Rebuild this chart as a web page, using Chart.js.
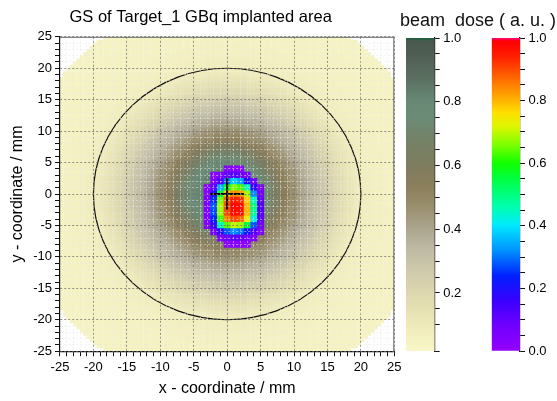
<!DOCTYPE html>
<html lang="en">
<head>
<meta charset="UTF-8" />
<title>GS of Target_1 GBq implanted area</title>
<script src="https://cdn.jsdelivr.net/npm/chart.js"></script>
<style>
  html, body { margin: 0; padding: 0; background: #fff; }
  body { width: 557px; height: 401px; position: relative; overflow: hidden; }
  canvas { position: absolute; top: 0; }
  #mainChart { left: 0; }
  #gsBar { left: 400px; }
  #doseBar { left: 470px; }
  #barTitle {
    position: absolute; left: 400px; top: 11px;
    font: 18px "Liberation Sans", Arial, sans-serif; line-height: 1;
    white-space: pre; color: #111;
  }
</style>
</head>
<body>
<canvas id="mainChart" width="405" height="401"></canvas>
<canvas id="gsBar" width="70" height="401"></canvas>
<canvas id="doseBar" width="87" height="401"></canvas>
<div id="barTitle">beam  dose ( a. u. )</div>

<script>
  // axis range (mm)
  const axisMin = -25;
  const axisMax = 25;

  // GS level per 0.5 mm ring around the origin (ring k = radius k/2 .. (k+1)/2 mm)
  const gsRingWidth = 0.5;
  const gsRingLevel = [
    0.90, 0.90, 0.90, 0.89, 0.88, 0.87, 0.85, 0.83, 0.81, 0.79,
    0.76, 0.73, 0.70, 0.665, 0.63, 0.595, 0.56, 0.53, 0.50, 0.475,
    0.45, 0.425, 0.40, 0.38, 0.36, 0.34, 0.32, 0.30, 0.28, 0.26,
    0.24, 0.22, 0.20, 0.18, 0.16, 0.145, 0.13, 0.115, 0.10, 0.09,
    0.08, 0.075, 0.07, 0.065, 0.06, 0.06, 0.06, 0.055, 0.05, 0.05,
    0.05, 0.05, 0.05, 0.05, 0.05, 0.05, 0.04, 0.04, 0.04, 0.04,
    0.04, 0.04];

  // beam dose, 1 mm cells; columns = x, rows = y (top to bottom)
  const doseCols = [-3, -2, -1, 0, 1, 2, 3, 4, 5];
  const doseRows = [4, 3, 2, 1, 0, -1, -2, -3, -4, -5, -6, -7, -8];
  const doseValues = [
    [null, null, null, 0.03, 0.03, 0.02, null, null, null],
    [null, 0.02, 0.05, 0.10, 0.12, 0.10, 0.06, null, null],
    [null, 0.04, 0.13, 0.30, 0.38, 0.34, 0.20, 0.07, null],
    [0.02, 0.10, 0.35, 0.58, 0.66, 0.63, 0.45, 0.18, 0.04],
    [0.03, 0.18, 0.55, 0.78, 0.84, 0.82, 0.68, 0.32, 0.07],
    [0.04, 0.25, 0.65, 0.88, 0.95, 0.93, 0.78, 0.45, 0.10],
    [0.05, 0.28, 0.68, 0.90, 0.98, 0.97, 0.80, 0.50, 0.12],
    [0.05, 0.27, 0.67, 0.90, 0.97, 0.96, 0.80, 0.48, 0.11],
    [0.04, 0.24, 0.62, 0.84, 0.90, 0.88, 0.74, 0.42, 0.10],
    [0.03, 0.16, 0.45, 0.64, 0.70, 0.68, 0.55, 0.28, 0.07],
    [null, 0.07, 0.18, 0.28, 0.32, 0.30, 0.22, 0.12, 0.04],
    [null, null, 0.05, 0.09, 0.11, 0.10, 0.08, 0.04, null],
    [null, null, null, 0.02, 0.03, 0.03, 0.02, null, null],
  ];

  // target circle and beam cross
  const ringRadius = 20;
  const crossH = [{ x: -2.5, y: 0 }, { x: 2.5, y: 0 }];
  const crossV = [{ x: 0, y: 2.5 }, { x: 0, y: -2.5 }];

  // colour scales
  const gsStops = [0, 0.05, 0.15, 0.25, 0.33, 0.40, 0.47, 0.53, 0.60, 0.68, 0.75, 0.80, 0.88, 0.95, 0.99, 1.0];
  const gsColors = ['#fbf9cc', '#f5f2c1', '#e6e1b2', '#d3ceac', '#c0bca6', '#aca68f', '#9a8f6e', '#8c7f5c',
    '#7f7c5f', '#738266', '#6b8b76', '#698976', '#5a6e60', '#4f5e53', '#4a594e', '#1a5e3e'];
  const doseStops = [0, 0.08, 0.16, 0.24, 0.32, 0.40, 0.46, 0.55, 0.60, 0.66, 0.72, 0.76, 0.82, 0.88, 0.94, 0.99, 1.0];
  const doseColors = ['#9400ff', '#7000ff', '#3a00ff', '#0020ff', '#0090ff', '#00e8ff', '#00ffb0', '#00ff40',
    '#10ff00', '#80ff00', '#e0f500', '#ffe000', '#ffa000', '#ff6000', '#ff2000', '#ff0000', '#ff0080'];

  Chart.defaults.font.family = '"Liberation Sans", Arial, sans-serif';
  Chart.defaults.color = '#000';

  function hexToRgb(h) {
    const n = parseInt(h.slice(1), 16);
    return [n >> 16, (n >> 8) & 255, n & 255];
  }

  function colorAt(v, stops, colors) {
    for (let i = 1; i < stops.length; i++) {
      if (v <= stops[i]) {
        const t = (v - stops[i - 1]) / (stops[i] - stops[i - 1]);
        const a = hexToRgb(colors[i - 1]), b = hexToRgb(colors[i]);
        return "rgb(" + a.map((c, k) => Math.round(c + (b[k] - c) * t)).join(",") + ")";
      }
    }
    return colors[colors.length - 1];
  }

  // GS cells: each cell takes the level of the ring its centre falls in
  const gsCells = [];
  const gsCellColors = [];
  const nCells = (axisMax - axisMin) / gsRingWidth;
  for (let i = 0; i < nCells; i++) {
    for (let j = 0; j < nCells; j++) {
      const x = axisMin + gsRingWidth * (i + 0.5);
      const y = axisMin + gsRingWidth * (j + 0.5);
      const ring = Math.floor(Math.hypot(x, y) / gsRingWidth);
      if (ring < gsRingLevel.length) {
        gsCells.push({ x, y });
        gsCellColors.push(colorAt(gsRingLevel[ring], gsStops, gsColors));
      }
    }
  }

  const doseCells = [];
  const doseCellColors = [];
  doseRows.forEach((y, r) => {
    doseCols.forEach((x, c) => {
      const v = doseValues[r][c];
      if (v !== null) {
        doseCells.push({ x, y });
        doseCellColors.push(colorAt(v, doseStops, doseColors));
      }
    });
  });

  const ringPlugin = {
    id: "ring",
    afterDatasetsDraw(chart) {
      const { ctx, scales: { x, y } } = chart;
      const cx = x.getPixelForValue(0), cy = y.getPixelForValue(0);
      ctx.save();
      ctx.beginPath();
      ctx.ellipse(cx, cy, x.getPixelForValue(ringRadius) - cx, cy - y.getPixelForValue(ringRadius), 0, 0, Math.PI * 2);
      ctx.lineWidth = 1.2;
      ctx.strokeStyle = "#111";
      ctx.stroke();
      ctx.restore();
    },
  };

  // thin frame on the top and right of the plot
  const framePlugin = {
    id: "frame",
    afterDraw(chart) {
      const { ctx, scales: { x, y } } = chart;
      const left = x.getPixelForValue(axisMin), right = x.getPixelForValue(axisMax);
      const top = y.getPixelForValue(axisMax), bottom = y.getPixelForValue(axisMin);
      ctx.save();
      ctx.strokeStyle = "#666";
      ctx.lineWidth = 1;
      ctx.beginPath();
      ctx.moveTo(left, top + 0.5);
      ctx.lineTo(right - 0.5, top + 0.5);
      ctx.lineTo(right - 0.5, bottom);
      ctx.stroke();
      ctx.restore();
    },
  };

  const isMajor = (v) => Math.abs(v % 5) < 1e-6;

  function coordAxis(title) {
    return {
      type: "linear",
      min: axisMin,
      max: axisMax,
      ticks: {
        stepSize: 1,
        autoSkip: false,
        maxRotation: 0,
        minRotation: 0,
        padding: 3,
        font: { size: 13 },
        color: "#000",
        callback: (v) => (isMajor(v) ? v : ""),
      },
      grid: {
        z: 1,
        lineWidth: 1,
        tickLength: 5,
        tickColor: "#111",
        color: (c) => (isMajor(c.tick.value) ? "rgba(110,110,110,0.75)" : "rgba(232,232,232,0.55)"),
      },
      border: { z: 1, color: "#111", width: 1.2, dash: [2, 2] },
      title: { display: true, text: title, font: { size: 16 }, color: "#000", padding: { top: 1, bottom: 3 } },
    };
  }

  const gsCellStyle = {
    type: "scatter",
    pointStyle: "rect",
    pointRadius: 2.55,
    pointHoverRadius: 2.55,
    pointBorderWidth: 0,
    clip: 0,
  };
  const doseCellStyle = { ...gsCellStyle, pointRadius: 4.9, pointHoverRadius: 4.9 };

  new Chart(document.getElementById("mainChart"), {
    type: "scatter",
    data: {
      datasets: [
        { ...gsCellStyle, label: "GS", data: gsCells, pointBackgroundColor: gsCellColors, order: 3 },
        { ...doseCellStyle, label: "beam dose", data: doseCells, pointBackgroundColor: doseCellColors, order: 2 },
        { type: "line", label: "cross h", data: crossH, borderColor: "#000", borderWidth: 2, pointRadius: 0, showLine: true, order: 1 },
        { type: "line", label: "cross v", data: crossV, borderColor: "#000", borderWidth: 2, pointRadius: 0, showLine: true, order: 0 },
      ],
    },
    options: {
      responsive: false,
      animation: false,
      events: [],
      layout: { padding: { left: 7, right: 10.7, top: 0, bottom: 0 } },
      plugins: {
        legend: { display: false },
        tooltip: { enabled: false },
        title: {
          display: true,
          text: "GS of Target_1 GBq implanted area",
          font: { size: 16.5, weight: "normal" },
          color: "#000",
          padding: { top: 8, bottom: 9 },
        },
      },
      scales: {
        x: { ...coordAxis("x - coordinate / mm"), position: "bottom" },
        y: { ...coordAxis("y - coordinate / mm"), position: "left" },
      },
    },
    plugins: [ringPlugin, framePlugin],
  });

  function colorBar(id, stops, colors, yMin, padding) {
    new Chart(document.getElementById(id), {
      type: "bar",
      data: {
        labels: [""],
        datasets: [{
          data: [[yMin, 1]],
          barPercentage: 1,
          categoryPercentage: 1,
          borderWidth: 0,
          backgroundColor: (c) => {
            const { chart } = c;
            if (!chart.chartArea) return null;
            const y = chart.scales.y;
            const g = chart.ctx.createLinearGradient(0, y.getPixelForValue(0), 0, y.getPixelForValue(1));
            stops.forEach((s, i) => g.addColorStop(s, colors[i]));
            return g;
          },
        }],
      },
      options: {
        responsive: false,
        animation: false,
        events: [],
        layout: { padding },
        plugins: { legend: { display: false }, tooltip: { enabled: false } },
        scales: {
          x: { display: false },
          y: {
            position: "right",
            min: yMin,
            max: 1,
            ticks: {
              stepSize: 0.05,
              autoSkip: false,
              padding: 3.5,
              font: { size: 13 },
              color: "#000",
              callback: (v) => (Math.abs(v * 5 - Math.round(v * 5)) < 1e-6 ? v.toFixed(1) : ""),
            },
            grid: { drawOnChartArea: false, tickLength: 5, tickColor: "#111" },
            border: { color: "#111", width: 1.2 },
          },
        },
      },
    });
  }

  colorBar("gsBar", gsStops, gsColors, 0.018, { left: 6, right: 6.7, top: 38, bottom: 50 });
  colorBar("doseBar", doseStops, doseColors, 0, { left: 21.7, right: 8.7, top: 38, bottom: 50 });
</script>
</body>
</html>
